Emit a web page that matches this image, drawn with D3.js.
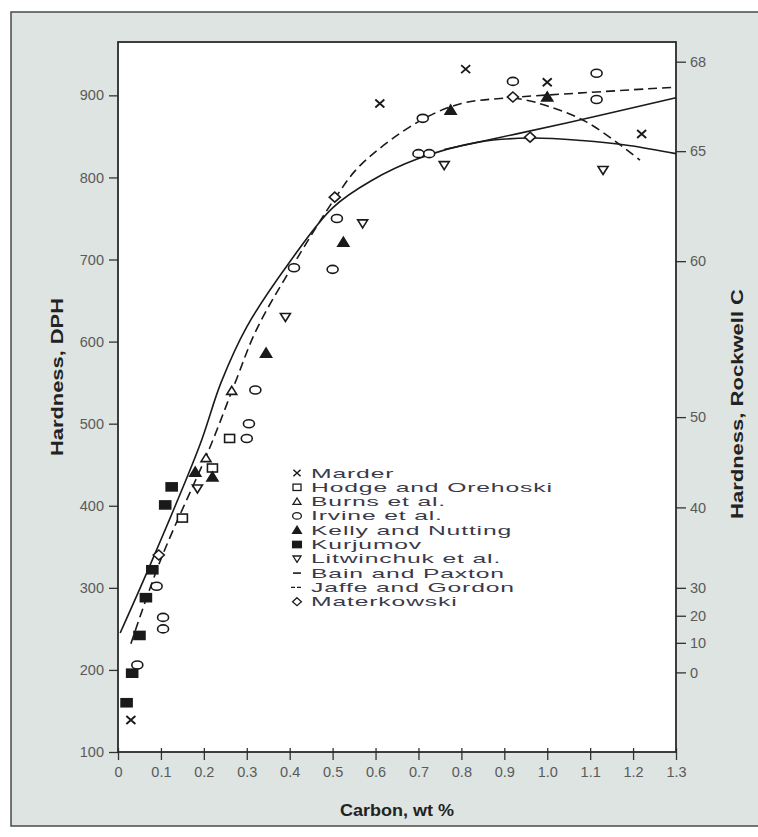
<!DOCTYPE html>
<html>
<head>
<meta charset="utf-8">
<script src="https://cdn.jsdelivr.net/npm/d3@7"></script>
<style>
  html, body { margin: 0; padding: 0; background: #fff; }
  svg { display: block; }
</style>
</head>
<body>
<svg id="chart" width="758" height="837"></svg>
<script>
// ---- data: hardness of martensite vs carbon content ----
const carbonTicks = [0, 0.1, 0.2, 0.3, 0.4, 0.5, 0.6, 0.7, 0.8, 0.9, 1.0, 1.1, 1.2, 1.3];
const dphTicks = [100, 200, 300, 400, 500, 600, 700, 800, 900];
const rockwellLabels = [68, 65, 60, 50, 40, 30, 20, 10, 0];
const rockwellDph = [941, 832, 698, 508, 398, 300, 266, 233, 197];

// scatter series: [carbon wt %, DPH]
const marder = [[0.03, 139], [0.61, 890], [0.81, 932], [1.0, 916], [1.22, 853]];
const hodge = [[0.15, 385], [0.22, 446], [0.26, 482]];
const burns = [[0.205, 458], [0.265, 540]];
const irvine = [[0.045, 206], [0.09, 302], [0.105, 250], [0.105, 264], [0.30, 482], [0.305, 500],
                [0.32, 541], [0.41, 690], [0.50, 688], [0.51, 750], [0.70, 829], [0.725, 829],
                [0.71, 872], [0.92, 917], [1.115, 927], [1.115, 895]];
const kelly = [[0.18, 441], [0.22, 435], [0.345, 586], [0.525, 721], [0.775, 882], [1.0, 898]];
const kurjumov = [[0.02, 160], [0.033, 196], [0.05, 242], [0.065, 288], [0.08, 322], [0.11, 401], [0.125, 423]];
const litwinchuk = [[0.185, 421], [0.39, 630], [0.57, 744], [0.76, 815], [1.13, 809]];
const materkowski = [[0.095, 340], [0.505, 776], [0.92, 898], [0.96, 849]];

// fitted curves
const bainPaxton = [[0.005, 245], [0.075, 328], [0.19, 473], [0.24, 550], [0.30, 618], [0.40, 697],
                    [0.50, 763], [0.59, 796], [0.70, 823], [0.84, 843], [0.96, 848], [1.08, 845],
                    [1.19, 839], [1.3, 829]];
const bainPaxtonUpper = [[0.76, 834], [1.05, 867], [1.3, 897]];
const jaffeGordon = [[0.03, 232], [0.10, 335], [0.214, 471], [0.273, 550], [0.323, 615], [0.41, 695],
                     [0.51, 778], [0.565, 815], [0.70, 868], [0.80, 890], [0.91, 897], [1.05, 902],
                     [1.3, 910]];
const jaffeGordonFall = [[0.92, 897], [0.976, 891], [1.09, 868], [1.216, 821]];

const legendItems = ["Marder", "Hodge and Orehoski", "Burns et al.", "Irvine et al.", "Kelly and Nutting",
                     "Kurjumov", "Litwinchuk et al.", "Bain and Paxton", "Jaffe and Gordon", "Materkowski"];

// ---- drawing ----
const svg = d3.select("#chart");
const ink = "#1a1a1a";
const tickInk = "#5a5a5a";

// panel background
svg.append("rect").attr("x", 11).attr("y", 12).attr("width", 760).attr("height", 814)
  .attr("fill", "#dde4e1").attr("stroke", "#4a4a4a").attr("stroke-width", 1.5);

const x = d3.scaleLinear().domain([0, 1.3]).range([118, 676]);
const y = d3.scaleLinear().domain([100, 965]).range([752, 42]);

// plot area
svg.append("rect").attr("x", x(0)).attr("y", y(965)).attr("width", x(1.3) - x(0)).attr("height", y(100) - y(965))
  .attr("fill", "#fff");

function styleAxis(g) {
  g.selectAll(".domain").remove();
  g.selectAll(".tick line").attr("stroke", "#333").attr("stroke-width", 1.3);
  g.selectAll(".tick text").attr("fill", tickInk).attr("font-family", "Liberation Sans, Arial, sans-serif")
    .attr("font-size", 14.5);
}

// bottom axis
svg.append("g").attr("transform", `translate(0,${y(100)})`)
  .call(d3.axisBottom(x).tickValues(carbonTicks).tickSize(8).tickPadding(7)
    .tickFormat(d => d === 0 ? "0" : d3.format(".1f")(d)))
  .call(styleAxis);
// short inward marks on the bottom axis
svg.append("g").attr("transform", `translate(0,${y(100)})`)
  .call(d3.axisTop(x).tickValues(carbonTicks).tickSize(4).tickFormat(""))
  .call(styleAxis);

// left axis
svg.append("g").attr("transform", `translate(${x(0)},0)`)
  .call(d3.axisLeft(y).tickValues(dphTicks).tickSize(9).tickPadding(5))
  .call(styleAxis);

// right axis: Rockwell C equivalents
svg.append("g").attr("transform", `translate(${x(1.3)},0)`)
  .call(d3.axisRight(y).tickValues(rockwellDph).tickSize(10).tickPadding(4)
    .tickFormat((d, i) => rockwellLabels[i]))
  .call(styleAxis);

// frame
svg.append("rect").attr("x", x(0)).attr("y", y(965)).attr("width", x(1.3) - x(0)).attr("height", y(100) - y(965))
  .attr("fill", "none").attr("stroke", "#2a2a2a").attr("stroke-width", 1.8);

// axis titles
const titleFont = "Liberation Sans Narrow, Arial Narrow, Liberation Sans, sans-serif";
svg.append("text").attr("x", 397).attr("y", 816).attr("text-anchor", "middle")
  .attr("font-family", titleFont).attr("font-weight", "bold").attr("font-size", 17).attr("fill", "#222")
  .attr("textLength", 114).attr("lengthAdjust", "spacingAndGlyphs")
  .text("Carbon, wt %");
svg.append("text").attr("transform", "translate(63,377) rotate(-90)").attr("text-anchor", "middle")
  .attr("font-family", titleFont).attr("font-weight", "bold").attr("font-size", 16).attr("fill", "#222")
  .attr("textLength", 158).attr("lengthAdjust", "spacingAndGlyphs")
  .text("Hardness, DPH");
svg.append("text").attr("transform", "translate(743,404) rotate(-90)").attr("text-anchor", "middle")
  .attr("font-family", titleFont).attr("font-weight", "bold").attr("font-size", 16).attr("fill", "#222")
  .attr("textLength", 230).attr("lengthAdjust", "spacingAndGlyphs")
  .text("Hardness, Rockwell C");

// curves
const line = d3.line().x(d => x(d[0])).y(d => y(d[1])).curve(d3.curveCatmullRom.alpha(0.5));
const curves = svg.append("g").attr("fill", "none").attr("stroke", ink).attr("stroke-width", 1.6);
curves.append("path").attr("d", line(bainPaxton));
curves.append("path").attr("d", line(bainPaxtonUpper));
curves.append("path").attr("d", line(jaffeGordon)).attr("stroke-dasharray", "9,5");
curves.append("path").attr("d", line(jaffeGordonFall)).attr("stroke-dasharray", "9,5");

// marker shapes
function drawMarker(g, kind, cx, cy) {
  const s = g.append("g").attr("transform", `translate(${cx},${cy})`);
  const apply = (el, fill) => el.attr("fill", fill).attr("stroke", ink).attr("stroke-width", 1.6);
  switch (kind) {
    case "x":
      s.append("path").attr("d", "M-4.5,-4L4.5,4M-4.5,4L4.5,-4").attr("stroke", ink).attr("stroke-width", 1.9);
      break;
    case "square":
      apply(s.append("rect").attr("x", -5).attr("y", -4).attr("width", 10).attr("height", 8), "#fff");
      break;
    case "triUp":
      apply(s.append("path").attr("d", "M0,-4.5L5,3.5L-5,3.5Z"), "#fff");
      break;
    case "circle":
      apply(s.append("ellipse").attr("rx", 5.5).attr("ry", 4), "#fff");
      break;
    case "triUpFilled":
      apply(s.append("path").attr("d", "M0,-5L5.5,4L-5.5,4Z"), ink);
      break;
    case "squareFilled":
      apply(s.append("rect").attr("x", -5.5).attr("y", -4).attr("width", 11).attr("height", 8), ink);
      break;
    case "triDown":
      apply(s.append("path").attr("d", "M0,4.5L5,-3.5L-5,-3.5Z"), "#fff");
      break;
    case "diamond":
      apply(s.append("path").attr("d", "M0,-5L5.5,0L0,5L-5.5,0Z"), "#fff");
      break;
  }
}

const series = [
  { data: marder, kind: "x" },
  { data: hodge, kind: "square" },
  { data: burns, kind: "triUp" },
  { data: irvine, kind: "circle" },
  { data: kelly, kind: "triUpFilled" },
  { data: kurjumov, kind: "squareFilled" },
  { data: litwinchuk, kind: "triDown" },
  { data: materkowski, kind: "diamond" }
];
const marks = svg.append("g");
series.forEach(sr => sr.data.forEach(d => drawMarker(marks, sr.kind, x(d[0]), y(d[1]))));

// legend: wide, lightly spaced lettering
const legendKinds = ["x", "square", "triUp", "circle", "triUpFilled", "squareFilled", "triDown", "solid", "dashed", "diamond"];
const legend = svg.append("g").attr("transform", "translate(297,473)");
legendItems.forEach((name, i) => {
  const ly = i * 14.3;
  const k = legendKinds[i];
  if (k === "solid") {
    legend.append("line").attr("x1", -4).attr("x2", 4).attr("y1", ly).attr("y2", ly).attr("stroke", ink).attr("stroke-width", 1.6);
  } else if (k === "dashed") {
    legend.append("line").attr("x1", -6).attr("x2", 6).attr("y1", ly).attr("y2", ly).attr("stroke", ink)
      .attr("stroke-width", 1.4).attr("stroke-dasharray", "4,2");
  } else {
    const g = legend.append("g").attr("transform", `translate(0,${ly}) scale(0.8)`);
    drawMarker(g, k, 0, 0);
  }
  legend.append("text").attr("transform", `translate(14,${ly + 4.5}) scale(1.9,1)`)
    .attr("font-family", "Liberation Sans, Arial, sans-serif")
    .attr("font-size", 13).attr("fill", "#3a3a4a").attr("letter-spacing", 0.45)
    .text(name);
});
</script>
</body>
</html>
